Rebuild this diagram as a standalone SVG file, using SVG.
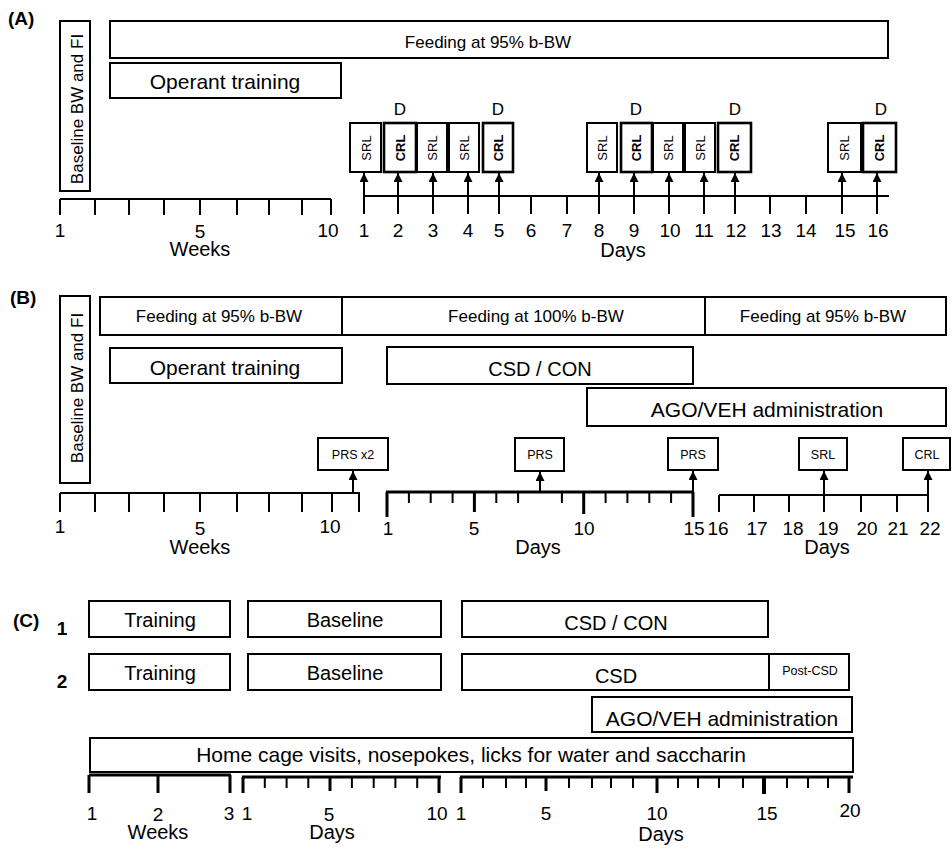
<svg xmlns="http://www.w3.org/2000/svg" width="952" height="849" viewBox="0 0 952 849">
<defs>
<style>
.bx{fill:#fff;stroke:#000;stroke-width:2}
.bk{fill:#fff;stroke:#000;stroke-width:2.6}
text{font-family:"Liberation Sans",Arial,sans-serif;fill:#000}
.m{text-anchor:middle}
.b{font-weight:bold}
.ax{stroke:#000;stroke-width:2;fill:none}
.ax3{stroke:#000;stroke-width:3;fill:none}
.ar{stroke:#000;stroke-width:2;fill:none;marker-end:url(#ah)}
.n{font-size:19px}
.s{font-size:13px}
</style>
<marker id="ah" viewBox="0 0 10 10" refX="10" refY="5" markerUnits="userSpaceOnUse" markerWidth="9" markerHeight="9" orient="auto"><path d="M0,0 L10,5 L0,10 z" fill="#000"/></marker>
</defs>
<rect width="952" height="849" fill="#fff"/>

<!-- Panel A -->
<g id="A-label"><text x="8" y="25" class="b" font-size="19">(A)</text></g>
<g id="A-baseline"><rect class="bx" x="60" y="21" width="30" height="170"/><text class="m" font-size="17" transform="translate(83,109) rotate(-90)">Baseline BW and FI</text></g>
<g id="A-feeding"><rect class="bx" x="110" y="21" width="778" height="37"/><text class="m" x="488" y="48" font-size="17">Feeding at 95% b-BW</text></g>
<g id="A-operant"><rect class="bx" x="110" y="63" width="231" height="35"/><text class="m" x="225" y="89" font-size="21">Operant training</text></g>

<g id="A-d1"><rect class="bx" x="350" y="123" width="31" height="49"/><text class="m s" transform="translate(370.5,148) rotate(-90)">SRL</text></g>
<g id="A-d2"><rect class="bk" x="384" y="123" width="32" height="49"/><text class="m s b" transform="translate(404.5,148) rotate(-90)">CRL</text><text class="m" x="400" y="115" font-size="17">D</text></g>
<g id="A-d3"><rect class="bx" x="417" y="123" width="30" height="49"/><text class="m s" transform="translate(436.5,148) rotate(-90)">SRL</text></g>
<g id="A-d4"><rect class="bx" x="449" y="123" width="30" height="49"/><text class="m s" transform="translate(468.5,148) rotate(-90)">SRL</text></g>
<g id="A-d5"><rect class="bk" x="483" y="123" width="30" height="49"/><text class="m s b" transform="translate(502.5,148) rotate(-90)">CRL</text><text class="m" x="498" y="115" font-size="17">D</text></g>
<g id="A-d8"><rect class="bx" x="587" y="123" width="30" height="49"/><text class="m s" transform="translate(606.5,148) rotate(-90)">SRL</text></g>
<g id="A-d9"><rect class="bk" x="621" y="123" width="31" height="49"/><text class="m s b" transform="translate(641,148) rotate(-90)">CRL</text><text class="m" x="636" y="115" font-size="17">D</text></g>
<g id="A-d10"><rect class="bx" x="653" y="123" width="30" height="49"/><text class="m s" transform="translate(672.5,148) rotate(-90)">SRL</text></g>
<g id="A-d11"><rect class="bx" x="685" y="123" width="30" height="49"/><text class="m s" transform="translate(704.5,148) rotate(-90)">SRL</text></g>
<g id="A-d12"><rect class="bk" x="718" y="123" width="33" height="49"/><text class="m s b" transform="translate(739,148) rotate(-90)">CRL</text><text class="m" x="735" y="115" font-size="17">D</text></g>
<g id="A-d15"><rect class="bx" x="828" y="123" width="33" height="49"/><text class="m s" transform="translate(849,148) rotate(-90)">SRL</text></g>
<g id="A-d16"><rect class="bk" x="863" y="123" width="33" height="49"/><text class="m s b" transform="translate(884,148) rotate(-90)">CRL</text><text class="m" x="881" y="115" font-size="17">D</text></g>

<g id="A-axes">
<path class="ax" d="M60,199 H331 M60,199 V215 M95,199 V215 M129,199 V215 M164,199 V215 M200,199 V215 M237,199 V215 M269,199 V215 M302,199 V215 M331,199 V215"/>
<path class="ax" d="M364,196 H889 M531,196 V214 M567,196 V214 M770,196 V214 M806,196 V214"/>
<text class="m n" x="60" y="237">1</text><text class="m n" x="200" y="238">5</text><text class="m n" x="328" y="237">10</text>
<text class="m" x="200" y="256" font-size="20">Weeks</text>
<text class="m n" x="364" y="237">1</text><text class="m n" x="398" y="237">2</text><text class="m n" x="433" y="237">3</text><text class="m n" x="468" y="237">4</text><text class="m n" x="499" y="237">5</text><text class="m n" x="531" y="237">6</text><text class="m n" x="567" y="237">7</text><text class="m n" x="599" y="237">8</text><text class="m n" x="634" y="237">9</text><text class="m n" x="670" y="237">10</text><text class="m n" x="704" y="237">11</text><text class="m n" x="736" y="237">12</text><text class="m n" x="771" y="237">13</text><text class="m n" x="806" y="237">14</text><text class="m n" x="845" y="237">15</text><text class="m n" x="878" y="237">16</text>
<text class="m" x="623" y="257" font-size="20">Days</text>
</g>

<!-- Panel B -->
<g id="B-label"><text x="10" y="304" class="b" font-size="19">(B)</text></g>
<g id="B-baseline"><rect class="bx" x="60" y="296" width="30" height="187"/><text class="m" font-size="17" transform="translate(83,388) rotate(-90)">Baseline BW and FI</text></g>
<g id="B-feed95a"><rect class="bx" x="100" y="297" width="242" height="38"/><text class="m" x="219" y="322" font-size="17">Feeding at 95% b-BW</text></g>
<g id="B-feed100"><rect class="bx" x="342" y="297" width="363" height="38"/><text class="m" x="536" y="322" font-size="17">Feeding at 100% b-BW</text></g>
<g id="B-feed95b"><rect class="bx" x="705" y="297" width="241" height="38"/><text class="m" x="823" y="322" font-size="17">Feeding at 95% b-BW</text></g>
<g id="B-operant"><rect class="bx" x="110" y="348" width="232" height="35"/><text class="m" x="225" y="375" font-size="21">Operant training</text></g>
<g id="B-csd"><rect class="bx" x="387" y="347" width="306" height="37"/><text class="m" x="540" y="376" font-size="20">CSD / CON</text></g>
<g id="B-ago"><rect class="bx" x="587" y="388" width="359" height="38"/><text class="m" x="767" y="417" font-size="21">AGO/VEH administration</text></g>
<g id="B-prs2"><rect class="bx" x="318" y="438" width="70" height="32"/><text class="m" x="353" y="459" font-size="12.5">PRS x2</text></g>
<g id="B-prs8"><rect class="bx" x="515" y="438" width="49" height="33"/><text class="m" x="540" y="459" font-size="12.5">PRS</text></g>
<g id="B-prs15"><rect class="bx" x="668" y="438" width="50" height="32"/><text class="m" x="693" y="459" font-size="12.5">PRS</text></g>
<g id="B-srl"><rect class="bx" x="799" y="438" width="48" height="32"/><text class="m" x="823" y="459" font-size="12.5">SRL</text></g>
<g id="B-crl"><rect class="bx" x="903" y="438" width="47" height="32"/><text class="m" x="927" y="459" font-size="12.5">CRL</text></g>

<g id="B-axes">
<path class="ax" d="M60,493 H360 M60,493 V512 M95,493 V512 M129,493 V512 M164,493 V512 M200,493 V512 M237,493 V512 M269,493 V512 M302,493 V512 M332,493 V512 M359,493 V512"/>
<path class="ax3" d="M386,492 H694 M387,492 V517 M474.4,492 V512 M583.7,492 V514 M693,492 V517"/>
<path class="ax" d="M408.9,492 V503 M430.7,492 V503 M452.6,492 V503 M496.3,492 V503 M518.1,492 V503 M561.9,492 V503 M605.6,492 V503 M627.4,492 V503 M649.3,492 V503 M671.1,492 V503"/>
<path class="ax" d="M719,495 H928 M719,495 V512 M754,495 V512 M789,495 V512 M861,495 V512 M897,495 V512"/>
<text class="m n" x="60" y="533">1</text><text class="m n" x="200" y="535">5</text><text class="m n" x="330" y="533">10</text>
<text class="m" x="200" y="554" font-size="20">Weeks</text>
<text class="m n" x="388" y="535">1</text><text class="m n" x="474" y="535">5</text><text class="m n" x="584" y="535">10</text><text class="m n" x="694" y="535">15</text><text class="m n" x="718" y="535">16</text><text class="m n" x="757" y="535">17</text><text class="m n" x="793" y="535">18</text><text class="m n" x="828" y="535">19</text><text class="m n" x="867" y="535">20</text><text class="m n" x="898" y="535">21</text><text class="m n" x="930" y="535">22</text>
<text class="m" x="538" y="554" font-size="20">Days</text>
<text class="m" x="827" y="554" font-size="20">Days</text>
</g>

<!-- Panel C -->
<g id="C-label"><text x="13" y="627" class="b" font-size="19">(C)</text><text class="m b" x="62" y="635" font-size="19">1</text><text class="m b" x="62" y="688" font-size="19">2</text></g>
<g id="C1-training"><rect class="bx" x="89" y="601" width="141" height="36"/><text class="m" x="160" y="627" font-size="20">Training</text></g>
<g id="C1-baseline"><rect class="bx" x="248" y="601" width="193" height="36"/><text class="m" x="345" y="627" font-size="20">Baseline</text></g>
<g id="C1-csd"><rect class="bx" x="462" y="601" width="306" height="36"/><text class="m" x="616" y="630" font-size="20">CSD / CON</text></g>
<g id="C2-training"><rect class="bx" x="89" y="654" width="141" height="36"/><text class="m" x="160" y="680" font-size="20">Training</text></g>
<g id="C2-baseline"><rect class="bx" x="248" y="654" width="193" height="36"/><text class="m" x="345" y="680" font-size="20">Baseline</text></g>
<g id="C2-csd"><rect class="bx" x="462" y="654" width="307" height="36"/><text class="m" x="616" y="683" font-size="20">CSD</text></g>
<g id="C2-post"><rect class="bx" x="769" y="654" width="80" height="36"/><text class="m" x="810" y="675" font-size="12.5">Post-CSD</text></g>
<g id="C-ago"><rect class="bx" x="592" y="697" width="260" height="35"/><text class="m" x="722" y="726" font-size="21">AGO/VEH administration</text></g>
<g id="C-home"><rect class="bx" x="90" y="738" width="763" height="34"/><text class="m" x="471" y="762" font-size="21">Home cage visits, nosepokes, licks for water and saccharin</text></g>

<g id="C-axes">
<path class="ax3" d="M89,775 H231 M89,775 V793 M158,775 V793 M230,775 V793"/>
<path class="ax3" d="M242,777 H441 M243,777 V793 M330,777 V791 M439,777 V793"/>
<path class="ax" d="M264.8,777 V788 M286.6,777 V788 M308.3,777 V788 M351.9,777 V788 M373.7,777 V788 M395.4,777 V788 M417.2,777 V788"/>
<path class="ax3" d="M460,777 H853 M461,777 V793 M546,777 V791 M657,777 V793 M849,777 V793"/>
<path d="M764,777 V794" stroke="#000" stroke-width="4"/>
<path class="ax" d="M483,777 V788 M506,777 V788 M526,777 V788 M569,777 V788 M592,777 V788 M611,777 V788 M633,777 V788 M678,777 V788 M698,777 V788 M719,777 V788 M743,777 V788 M787,777 V788 M808,777 V788 M828,777 V788"/>
<text class="m n" x="92" y="820">1</text><text class="m n" x="158" y="821">2</text><text class="m n" x="229" y="820">3</text>
<text class="m" x="158" y="839" font-size="20">Weeks</text>
<text class="m n" x="247" y="820">1</text><text class="m n" x="329" y="821">5</text><text class="m n" x="437" y="820">10</text>
<text class="m" x="332" y="839" font-size="20">Days</text>
<text class="m n" x="461" y="820">1</text><text class="m n" x="546" y="820">5</text><text class="m n" x="657" y="820">10</text><text class="m n" x="767" y="820">15</text><text class="m n" x="850" y="817">20</text>
<text class="m" x="661" y="841" font-size="20">Days</text>
</g>

<!-- Connectors -->
<g id="connectors">
<path class="ar" d="M364,214 V173"/><path class="ar" d="M398,214 V173"/><path class="ar" d="M433,214 V173"/><path class="ar" d="M468,214 V173"/><path class="ar" d="M499,214 V173"/>
<path class="ar" d="M599,214 V173"/><path class="ar" d="M634,214 V173"/><path class="ar" d="M669,214 V173"/><path class="ar" d="M704,214 V173"/><path class="ar" d="M735,214 V173"/>
<path class="ar" d="M842,214 V173"/><path class="ar" d="M877,214 V173"/>
<path class="ar" d="M353,493 V471"/>
<path class="ar" d="M540,492 V472"/>
<path class="ar" d="M693,517 V471"/>
<path class="ar" d="M824,512 V471"/>
<path class="ar" d="M928,512 V471"/>
</g>
</svg>
